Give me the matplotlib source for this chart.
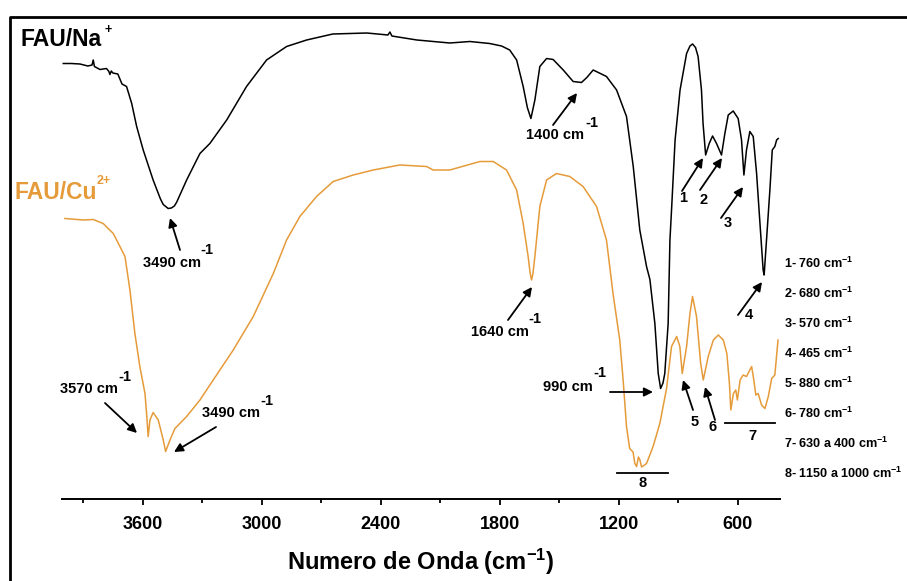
import matplotlib
matplotlib.use("Agg")
import matplotlib.pyplot as plt
from matplotlib.lines import Line2D
from matplotlib.ticker import MultipleLocator

plt.rcParams['font.family'] = ['Liberation Sans', 'DejaVu Sans']
plt.rcParams['font.weight'] = 'bold'
plt.rcParams['mathtext.fontset'] = 'custom'
plt.rcParams['mathtext.rm'] = 'Liberation Sans:bold'
plt.rcParams['mathtext.bf'] = 'Liberation Sans:bold'
plt.rcParams['mathtext.it'] = 'Liberation Sans:bold'

# ---------------- data (wavenumber cm-1, transmittance a.u.) ----------------
na_wavenumber = [4000, 3960, 3916, 3876, 3855, 3849, 3843, 3815, 3782, 3770, 3765, 3758, 3750,
                 3725, 3704, 3681, 3655, 3630, 3597, 3547, 3510, 3496, 3471, 3455, 3440, 3429,
                 3378, 3311, 3261, 3176, 3076, 2975, 2874, 2773, 2641, 2469, 2363, 2353, 2343,
                 2217, 2051, 1950, 1850, 1790, 1749, 1714, 1681, 1660, 1642, 1622, 1597, 1563,
                 1530, 1479, 1429, 1387, 1360, 1328, 1261, 1210, 1160, 1126, 1093, 1059, 1042,
                 1017, 1000, 988, 976, 967, 950, 941, 932, 915, 890, 857, 840, 827, 812, 799,
                 782, 774, 761, 743, 726, 706, 681, 664, 647, 622, 597, 580, 568, 555, 538, 521,
                 504, 487, 471, 466, 454, 437, 425, 412, 403, 395]
na_transmittance = [87.1, 87.1, 87.0, 86.6, 86.8, 87.8, 86.5, 85.9, 86.1, 85.5, 84.9, 85.6, 85.2,
                    85.0, 83.0, 82.5, 79.1, 74.5, 69.8, 63.8, 60.0, 58.9, 58.1, 58.2, 58.6, 59.3,
                    63.8, 69.1, 71.1, 75.8, 82.5, 87.8, 90.5, 91.8, 93.0, 93.2, 92.8, 93.4, 92.6,
                    91.8, 91.2, 91.5, 91.1, 90.6, 89.8, 87.8, 82.5, 78.3, 76.1, 79.8, 86.5, 88.1,
                    87.9, 85.8, 83.5, 83.3, 84.3, 85.8, 84.5, 81.8, 76.5, 66.5, 53.8, 46.5, 43.9,
                    35.1, 25.1, 22.1, 23.2, 25.1, 35.1, 51.8, 58.5, 71.8, 81.8, 89.1, 90.6, 91.0,
                    90.3, 88.5, 81.8, 75.1, 68.8, 71.1, 72.6, 71.1, 68.8, 73.1, 76.8, 77.6, 76.1,
                    71.8, 64.8, 69.8, 73.5, 72.5, 65.1, 55.1, 45.8, 44.8, 51.8, 61.8, 69.8, 70.5,
                    71.8, 72.1]

cu_wavenumber = [3992, 3899, 3849, 3799, 3748, 3731, 3689, 3664, 3639, 3614, 3588, 3580, 3572,
                 3563, 3547, 3521, 3496, 3484, 3462, 3437, 3378, 3311, 3244, 3143, 3042, 2941,
                 2874, 2807, 2723, 2639, 2538, 2437, 2303, 2168, 2135, 2051, 1899, 1832, 1765,
                 1714, 1681, 1656, 1646, 1639, 1632, 1622, 1597, 1563, 1513, 1446, 1379, 1311,
                 1261, 1227, 1194, 1177, 1160, 1144, 1127, 1118, 1109, 1100, 1093, 1084, 1076,
                 1059, 1026, 992, 958, 933, 907, 891, 879, 857, 840, 827, 807, 786, 773, 748,
                 722, 697, 672, 654, 641, 634, 621, 609, 601, 587, 572, 555, 529, 518, 508, 496,
                 479, 462, 445, 428, 412, 396]
cu_transmittance = [56.1, 55.8, 55.9, 55.1, 53.1, 51.8, 48.5, 41.8, 33.1, 26.5, 21.1, 17.1, 12.5,
                    15.8, 17.3, 15.8, 11.8, 9.5, 11.8, 14.1, 16.5, 19.8, 23.8, 29.8, 36.5, 45.1,
                    51.8, 56.5, 60.5, 63.5, 64.8, 65.8, 66.8, 66.5, 65.8, 65.8, 67.5, 67.5, 65.8,
                    61.8, 55.1, 48.5, 45.2, 43.8, 45.0, 48.5, 58.5, 63.8, 65.1, 64.5, 62.5, 58.5,
                    51.8, 40.8, 31.8, 23.8, 14.5, 10.1, 9.4, 7.1, 6.5, 8.4, 7.9, 6.4, 6.6,
                    7.1, 10.5, 15.1, 22.1, 30.5, 32.5, 30.5, 25.1, 30.5, 37.1, 40.5, 36.5, 27.1,
                    23.8, 28.5, 31.8, 32.8, 31.8, 29.1, 23.1, 17.8, 21.1, 21.8, 19.8, 23.8, 24.8,
                    24.5, 26.5, 23.8, 20.8, 21.1, 18.8, 18.1, 20.5, 24.1, 24.8, 31.8]

major_ticks = [3600, 3000, 2400, 1800, 1200, 600]
band_list = ["1- 760 cm", "2- 680 cm", "3- 570 cm", "4- 465 cm", "5- 880 cm", "6- 780 cm",
             "7- 630 a 400 cm", "8- 1150 a 1000 cm"]

ORANGE = '#E59B3A'
W, H = 907, 581

fig = plt.figure(figsize=(W / 100, H / 100), dpi=100)
ax = fig.add_axes([61.7 / W, (H - 499) / H, (780 - 61.7) / W, (499 - 17) / H])

ax.plot(na_wavenumber, na_transmittance, color='black', lw=1.1)
ax.plot(cu_wavenumber, cu_transmittance, color=ORANGE, lw=1.1)

ax.set_xlim(4008, 386)
ax.set_ylim(0, 96.4)
for s in ['left', 'right', 'top']:
    ax.spines[s].set_visible(False)
ax.spines['bottom'].set_linewidth(1.4)
ax.set_yticks([])
ax.set_xticks(major_ticks)
ax.xaxis.set_minor_locator(MultipleLocator(300))
ax.tick_params(axis='x', which='major', length=4.5, width=1.3, pad=8, labelsize=13)
ax.tick_params(axis='x', which='minor', length=3, width=1.3)
for lab in ax.get_xticklabels():
    lab.set_fontweight('bold')
ax.set_xlabel(r'Numero de Onda (cm$^{-1}$)', fontsize=17, fontweight='bold', labelpad=10)
ax.patch.set_alpha(0)


def P(x, y):
    return (x / W, 1 - y / H)


def txt(x, y, s, size=10.5, color='black', ha='center'):
    fig.text(*P(x, y), s, fontsize=size, color=color, ha=ha, va='center', fontweight='bold')


def arrow(x0, y0, x1, y1):
    ax.annotate('', xy=P(x1, y1), xytext=P(x0, y0), xycoords='figure fraction',
                textcoords='figure fraction',
                arrowprops=dict(arrowstyle='-|>', color='black', lw=1.3, mutation_scale=13,
                                shrinkA=0, shrinkB=0))


def hline(x0, x1, y):
    fig.add_artist(Line2D([x0 / W, x1 / W], [1 - y / H, 1 - y / H], color='black', lw=1.3))


# titles of spectra
txt(20, 40, 'FAU/Na', size=16.5, ha='left')
txt(108, 30, '+', size=9)
txt(15, 192, 'FAU/Cu', size=16.5, color=ORANGE, ha='left')
txt(104, 181, '2+', size=9, color=ORANGE)

# peak annotations
txt(172, 263, '3490 cm'); txt(207, 250, '-1')
arrow(180, 250, 170, 218)
txt(555, 135, '1400 cm'); txt(592, 123, '-1')
arrow(553, 125, 577, 93)
txt(683, 198, '1'); arrow(682, 191, 703, 158)
txt(704, 200, '2'); arrow(700, 190, 722, 158)
txt(728, 223, '3'); arrow(721, 218, 743, 187)
txt(749, 315, '4'); arrow(738, 315, 762, 282)
txt(500, 332, '1640 cm'); txt(535, 319, '-1')
arrow(508, 320, 532, 287)
txt(568, 387, '990 cm'); txt(600, 373, '-1')
arrow(610, 392, 653, 392)
txt(695, 422, '5'); arrow(693, 410, 683, 380)
txt(713, 427, '6'); arrow(715, 420, 705, 387)
hline(725, 775, 423); txt(752, 436, '7')
hline(617, 668, 473); txt(643, 483, '8')
txt(89, 389, '3570 cm'); txt(125, 377, '-1')
arrow(105, 403, 137, 433)
txt(231, 413, '3490 cm'); txt(267, 401, '-1')
arrow(216, 427, 174, 452)

# band list
for i, s in enumerate(band_list):
    txt(784, 263 + 30.1 * i, s + r'$^{-1}$', size=9.1, ha='left')

# border
fig.add_artist(Line2D([10 / W, 10 / W, 1.0], [0.0, 1 - 17 / H, 1 - 17 / H], color='black', lw=2))

fig.savefig('out.png', dpi=100)
